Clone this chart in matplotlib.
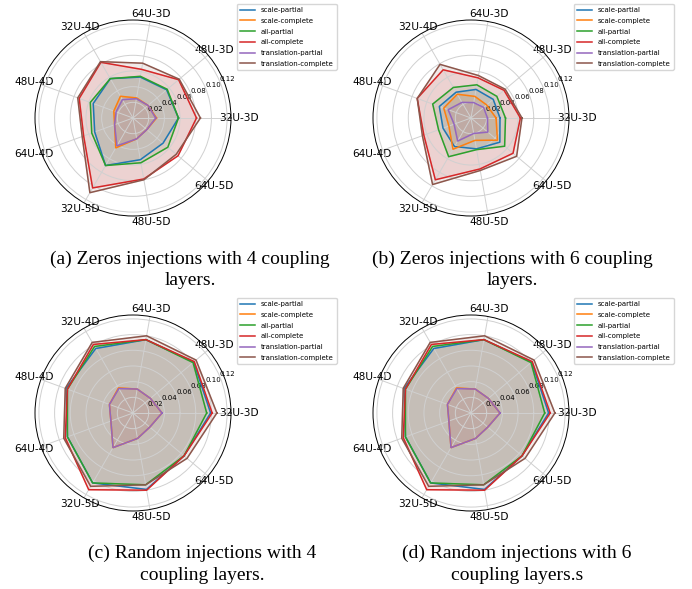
import numpy as np
import matplotlib
matplotlib.use("Agg")
import matplotlib.pyplot as plt

# categories around the radar
categories = ['32U-3D', '48U-3D', '64U-3D', '32U-4D', '48U-4D',
              '64U-4D', '32U-5D', '48U-5D', '64U-5D']
series = ['scale-partial', 'scale-complete', 'all-partial',
          'all-complete', 'translation-partial', 'translation-complete']
colors = ['tab:blue', 'tab:orange', 'tab:green', 'tab:red', 'tab:purple', 'tab:brown']
rticks = [0.02, 0.04, 0.06, 0.08, 0.10, 0.12]

# (a) zeros injections, 4 coupling layers
zeros4 = [
    [0.058, 0.056, 0.053, 0.058, 0.054, 0.052, 0.070, 0.054, 0.050],
    [0.030, 0.025, 0.026, 0.032, 0.026, 0.025, 0.044, 0.027, 0.023],
    [0.058, 0.057, 0.054, 0.058, 0.058, 0.056, 0.070, 0.058, 0.058],
    [0.081, 0.076, 0.063, 0.082, 0.073, 0.067, 0.103, 0.079, 0.075],
    [0.029, 0.025, 0.025, 0.027, 0.023, 0.025, 0.041, 0.027, 0.023],
    [0.086, 0.077, 0.071, 0.083, 0.075, 0.069, 0.110, 0.080, 0.072],
]
# (b) zeros injections, 6 coupling layers
zeros6 = [
    [0.037, 0.037, 0.037, 0.038, 0.043, 0.038, 0.042, 0.040, 0.048],
    [0.032, 0.026, 0.028, 0.035, 0.037, 0.030, 0.046, 0.029, 0.044],
    [0.044, 0.043, 0.043, 0.045, 0.052, 0.044, 0.057, 0.041, 0.056],
    [0.063, 0.055, 0.052, 0.071, 0.073, 0.064, 0.091, 0.066, 0.070],
    [0.021, 0.021, 0.020, 0.023, 0.031, 0.023, 0.034, 0.020, 0.028],
    [0.065, 0.057, 0.055, 0.079, 0.073, 0.066, 0.098, 0.068, 0.076],
]
# (c) random injections, 4 coupling layers
random4 = [
    [0.099, 0.101, 0.095, 0.095, 0.091, 0.089, 0.103, 0.099, 0.085],
    [0.037, 0.029, 0.031, 0.037, 0.032, 0.030, 0.051, 0.033, 0.028],
    [0.094, 0.100, 0.095, 0.098, 0.089, 0.089, 0.103, 0.093, 0.085],
    [0.101, 0.102, 0.095, 0.101, 0.089, 0.092, 0.113, 0.100, 0.085],
    [0.037, 0.029, 0.031, 0.036, 0.032, 0.030, 0.051, 0.033, 0.028],
    [0.107, 0.105, 0.100, 0.104, 0.092, 0.094, 0.108, 0.093, 0.090],
]
# (d) random injections, 6 coupling layers
random6 = [
    [0.099, 0.101, 0.095, 0.095, 0.091, 0.089, 0.103, 0.099, 0.085],
    [0.037, 0.029, 0.031, 0.037, 0.032, 0.030, 0.051, 0.033, 0.028],
    [0.094, 0.100, 0.095, 0.098, 0.089, 0.089, 0.103, 0.093, 0.085],
    [0.101, 0.102, 0.095, 0.101, 0.089, 0.092, 0.113, 0.100, 0.085],
    [0.037, 0.029, 0.031, 0.036, 0.032, 0.030, 0.051, 0.033, 0.028],
    [0.107, 0.105, 0.100, 0.104, 0.092, 0.094, 0.108, 0.093, 0.090],
]

captions = [
    ('(a) Zeros injections with 4 coupling', 'layers.'),
    ('(b) Zeros injections with 6 coupling', 'layers.'),
    ('(c) Random injections with 4', 'coupling layers.'),
    ('(d) Random injections with 6', 'coupling layers.s'),
]

W, H = 692, 589
fig = plt.figure(figsize=(W / 100, H / 100), dpi=100)

R = 98
centers = [(133, 118), (471, 118), (133, 413), (471, 413)]
legend_pos = [(237, 4), (574, 4), (237, 298), (574, 298)]
caption_pos = [(190, 259, 281), (512, 259, 281), (202, 553, 576), (517, 553, 576)]
panels = [zeros4, zeros6, random4, random6]

angles = np.deg2rad(np.arange(len(categories)) * 360 / len(categories))
closed = np.append(angles, angles[0])

for data, (cx, cy), (lx, ly), cap, (tx, ty1, ty2) in zip(panels, centers, legend_pos, captions, caption_pos):
    ax = fig.add_axes([(cx - R) / W, (H - cy - R) / H, 2 * R / W, 2 * R / H], polar=True)
    for vals, name, c in zip(data, series, colors):
        v = np.append(vals, vals[0])
        ax.plot(closed, v, color=c, lw=1.1, label=name)
        ax.fill(closed, v, color=c, alpha=0.12)
    ax.set_ylim(0, 0.125)
    ax.set_thetagrids(np.degrees(angles), categories, fontsize=7.6)
    ax.set_yticks(rticks)
    ax.set_yticklabels(['%.2f' % t for t in rticks], fontsize=5)
    ax.grid(color='#d0d0d0', lw=0.7)
    ax.spines['polar'].set_linewidth(0.7)
    ax.tick_params(axis='x', pad=-5)
    ax.legend(loc='upper left', bbox_to_anchor=(lx / W, 1 - ly / H),
              bbox_transform=fig.transFigure, borderaxespad=0, fontsize=5.0,
              labelspacing=0.68, handlelength=2.2, borderpad=0.45)
    fig.text(tx / W, 1 - ty1 / H, cap[0], ha='center', va='center',
             family='Liberation Serif', fontsize=14)
    fig.text(tx / W, 1 - ty2 / H, cap[1], ha='center', va='center',
             family='Liberation Serif', fontsize=14)

fig.savefig('out.png', dpi=100)
